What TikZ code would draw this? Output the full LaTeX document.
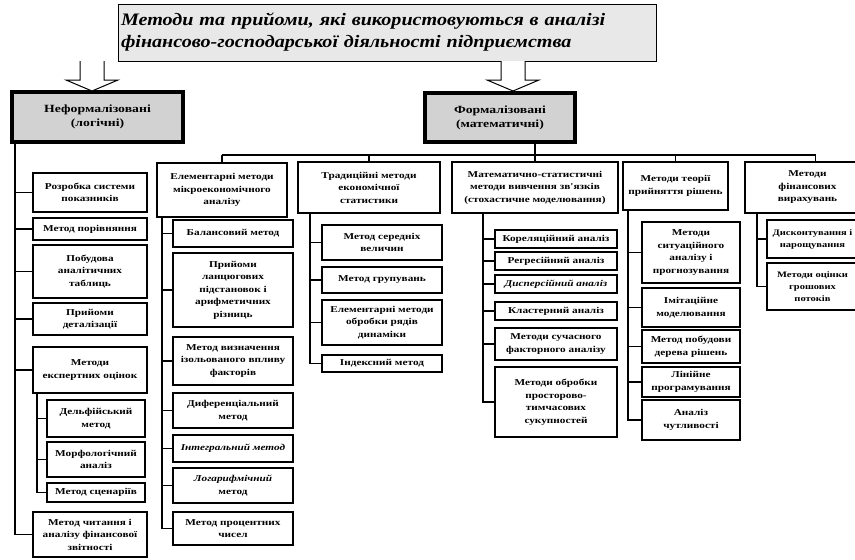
\documentclass[tikz,border=0pt]{standalone}
\usepackage{fontspec}
\setmainfont{Liberation Serif}
\newfontfamily\boxfont{Liberation Serif}[FakeStretch=1.25]
\newfontfamily\titlefont{Liberation Serif}[FakeStretch=1.15]
\usetikzlibrary{calc}

% box placed by its top-left and bottom-right corners (in px-like units)
\newcommand\nbox[7]{%
  \node[#1,anchor=north west,
        minimum width={(#5-#3)*1pt},minimum height={(#6-#4)*1pt}]
        (#2) at (#3,#4) {#7};}

\tikzset{
  base/.style={draw=black,align=center,inner sep=1pt,outer sep=0pt,
    font=\boxfont\fontsize{9}{12.5}\selectfont\bfseries},
  subbox/.style={base,line width=1.1pt},
  mainbox/.style={base,line width=2.6pt},
  catbox/.style={base,line width=4.5pt,fill=gray!35,
    font=\boxfont\fontsize{11}{14}\selectfont\bfseries},
  edgefont/.style={font=\boxfont\fontsize{8.4}{12}\selectfont\bfseries},
  conn/.style={draw=black,line width=1.1pt},
  blockarrow/.style={draw=black,fill=white,line width=1pt,line join=miter}
}

\begin{document}
\begin{tikzpicture}[x=1pt,y=-1pt]
\useasboundingbox (0,0) rectangle (855,560);
\fill[white] (0,0) rectangle (855,560);
\begin{scope}
\clip (0,0) rectangle (855,560);

% ---------- title ----------
\nbox{base,line width=1pt,fill=gray!18,align=left,inner xsep=2pt,text width=532pt,
      font=\titlefont\fontsize{17.5}{22}\selectfont\bfseries\itshape}{title}{118}{4}{656}{61}
  {Методи та прийоми, які використовуються в аналізі\\фінансово-господарської діяльності підприємства}

% ---------- categories ----------
\nbox{catbox}{lcat}{12}{92}{183}{142}{Неформалізовані\\(логічні)}
\nbox{catbox}{rcat}{425}{93}{575}{142}{Формалізовані\\(математичні)}

% hollow block arrows from the title
\coordinate (la) at (92,61);
\coordinate (ra) at (513,61);
\draw[blockarrow] ($(la)+(-12,0)$) -- ++(0,19) -- ++(-14,0) -- ($(la)+(0,30)$)
  -- ($(la)+(26,19)$) -- ++(-14,0) -- ($(la)+(12,0)$);
\draw[blockarrow] ($(ra)+(-12,0)$) -- ++(0,19) -- ++(-14,0) -- ($(ra)+(0,30)$)
  -- ($(ra)+(26,19)$) -- ++(-14,0) -- ($(ra)+(12,0)$);

% ---------- logical methods ----------
\nbox{mainbox}{l1}{33}{173}{147}{212}{Розробка системи\\показників}
\nbox{mainbox}{l2}{33}{218}{147}{240}{Метод порівняння}
\nbox{mainbox}{l3}{33}{245}{147}{298}{Побудова\\аналітичних\\таблиць}
\nbox{mainbox}{l4}{33}{303}{147}{335}{Прийоми\\деталізації}
\nbox{mainbox}{l5}{33}{347}{147}{393}{Методи\\експертних оцінок}
\nbox{subbox}{l5a}{47}{400}{145}{437}{Дельфійський\\метод}
\nbox{subbox}{l5b}{47}{442}{145}{477}{Морфологічний\\аналіз}
\nbox{subbox}{l5c}{47}{483}{145}{502}{Метод сценаріїв}
\nbox{mainbox}{l6}{33}{512}{147}{557}{Метод читання і\\аналізу фінансової\\звітності}

\coordinate (lsp) at (15,0);
\coordinate (lsub) at (37,0);
\draw[conn] (lsp |- lcat.south) |- (l6.west);
\foreach \n in {l1,l2,l3,l4,l5} \draw[conn] (lsp |- \n.west) -- (\n.west);
\draw[conn] (lsub |- l5.south) |- (l5c.west);
\foreach \n in {l5a,l5b} \draw[conn] (lsub |- \n.west) -- (\n.west);

% ---------- formal methods: column headers ----------
\nbox{mainbox}{c2}{157}{163}{287}{217}{Елементарні методи\\мікроекономічного\\аналізу}
\nbox{mainbox}{c3}{298}{162}{440}{213}{Традиційні методи\\економічної\\статистики}
\nbox{mainbox}{c4}{452}{162}{618}{213}{Математично-статистичні\\методи вивчення зв'язків\\(стохастичне моделювання)}
\nbox{mainbox}{c5}{623}{162}{728}{210}{Методи теорії\\прийняття рішень}
\nbox{mainbox}{c6}{745}{162}{870}{213}{Методи\\фінансових\\вирахувань}

\coordinate (bus) at (0,155);
\coordinate (rdrop) at (535,0);
\draw[conn] (rdrop |- rcat.south) -- (rdrop |- bus);
\draw[conn] (c2.north |- bus) -- ($(c6.north |- bus)+(8,0)$);
\foreach \n in {c2,c3,c4,c5} \draw[conn] (\n.north |- bus) -- (\n.north);
\draw[conn] ($(c6.north |- bus)+(8,0)$) -- ($(c6.north)+(8,0)$);

% column 2
\nbox{subbox}{c2a}{173}{220}{293}{247}{Балансовий метод}
\nbox{subbox}{c2b}{173}{253}{293}{327}{Прийоми\\ланцюгових\\підстановок і\\арифметичних\\різниць}
\nbox{subbox}{c2c}{173}{337}{293}{385}{Метод визначення\\ізольованого впливу\\факторів}
\nbox{subbox}{c2d}{173}{393}{293}{428}{Диференціальний\\метод}
\nbox{subbox}{c2e}{173}{435}{293}{462}{\itshape Інтегральний метод}
\nbox{subbox}{c2f}{173}{468}{293}{503}{\itshape Логарифмічний\\метод}
\nbox{subbox}{c2g}{173}{512}{293}{545}{Метод процентних\\чисел}
\coordinate (s2) at (162,0);
\draw[conn] (s2 |- c2.south) |- (c2g.west);
\foreach \n in {c2a,c2b,c2c,c2d,c2e,c2f} \draw[conn] (s2 |- \n.west) -- (\n.west);

% column 3
\nbox{subbox}{c3a}{322}{225}{442}{260}{Метод середніх\\величин}
\nbox{subbox}{c3b}{322}{267}{442}{293}{Метод групувань}
\nbox{subbox}{c3c}{322}{300}{442}{345}{Елементарні методи\\обробки рядів\\динаміки}
\nbox{subbox}{c3d}{322}{355}{442}{372}{Індексний метод}
\coordinate (s3) at (310,0);
\draw[conn] (s3 |- c3.south) |- (c3d.west);
\foreach \n in {c3a,c3b,c3c} \draw[conn] (s3 |- \n.west) -- (\n.west);

% column 4
\nbox{subbox}{c4a}{495}{230}{617}{248}{Кореляційний аналіз}
\nbox{subbox}{c4b}{495}{252}{617}{270}{Регресійний аналіз}
\nbox{subbox}{c4c}{495}{275}{617}{293}{\itshape Дисперсійний аналіз}
\nbox{subbox}{c4d}{495}{302}{617}{320}{Кластерний аналіз}
\nbox{subbox}{c4e}{495}{328}{617}{360}{Методи сучасного\\факторного аналізу}
\nbox{subbox}{c4f}{495}{367}{617}{437}{Методи обробки\\просторово-\\тимчасових\\сукупностей}
\coordinate (s4) at (483,0);
\draw[conn] (s4 |- c4.south) |- (c4f.west);
\foreach \n in {c4a,c4b,c4c,c4d,c4e} \draw[conn] (s4 |- \n.west) -- (\n.west);

% column 5
\nbox{subbox}{c5a}{642}{222}{740}{283}{Методи\\ситуаційного\\аналізу і\\прогнозування}
\nbox{subbox}{c5b}{642}{288}{740}{327}{Імітаційне\\моделювання}
\nbox{subbox}{c5c}{642}{330}{740}{363}{Метод побудови\\дерева рішень}
\nbox{subbox}{c5d}{642}{367}{740}{397}{Лінійне\\програмування}
\nbox{subbox}{c5e}{642}{400}{740}{440}{Аналіз\\чутливості}
\coordinate (s5) at (628,0);
\draw[conn] (s5 |- c5.south) |- (c5e.west);
\foreach \n in {c5a,c5b,c5c,c5d} \draw[conn] (s5 |- \n.west) -- (\n.west);

% column 6 (runs to the right edge)
\nbox{subbox,edgefont}{c6a}{767}{220}{858}{258}{Дисконтування і\\нарощування}
\nbox{subbox,edgefont}{c6b}{767}{263}{858}{310}{Методи оцінки\\грошових\\потоків}
\coordinate (s6) at (757,0);
\draw[conn] (s6 |- c6.south) |- (c6b.west);
\draw[conn] (s6 |- c6a.west) -- (c6a.west);
\end{scope}
\end{tikzpicture}
\end{document}
